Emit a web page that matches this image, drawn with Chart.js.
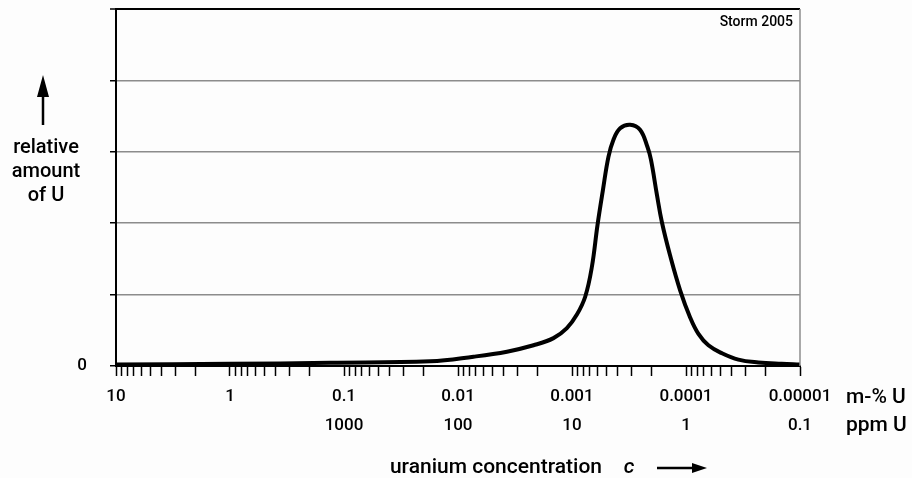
<!DOCTYPE html>
<html>
<head>
<meta charset="utf-8">
<title>Uranium concentration</title>
<script src="https://cdn.jsdelivr.net/npm/chart.js@4.4.1/dist/chart.umd.min.js"></script>
<style>
  html, body { margin: 0; padding: 0; background: #fdfdfd; }
  canvas { display: block; }
</style>
</head>
<body>
<canvas id="uChart" width="912" height="478"></canvas>
<script>
// uranium concentration in m-% U
const concentration = [10, 1, 0.132, 0.0175, 0.00731, 0.00372, 0.002176, 0.001453, 0.001109,
  0.000906, 0.000766, 0.000669, 0.000598, 0.000536, 0.000479, 0.000433, 0.000378, 0.000309,
  0.000253, 0.000218, 0.000203, 0.000180, 0.000163, 0.000138, 0.0001126, 0.000092,
  0.0000778, 0.0000636, 0.0000486, 0.0000347, 0.0000232, 0.0000145, 0.00001];
// relative amount of U (grid step = 1)
const relativeAmount = [0.02, 0.03, 0.045, 0.065, 0.13, 0.20, 0.29, 0.39, 0.53,
  0.72, 0.97, 1.39, 1.97, 2.46, 2.93, 3.17, 3.33, 3.38,
  3.31, 3.07, 2.89, 2.40, 2.02, 1.55, 1.06, 0.68,
  0.45, 0.29, 0.18, 0.09, 0.05, 0.03, 0.02];

const massTicks = ['10', '1', '0.1', '0.01', '0.001', '0.0001', '0.00001'];
const ppmTicks = ['', '', '1000', '100', '10', '1', '0.1'];
const yTicks = ['0'];
const yTitle = ['relative', 'amount', 'of U'];
const xTitle = 'uranium concentration';
const unitLabels = ['m-% U', 'ppm U'];
const sourceNote = 'Storm 2005';

const FONT = 'Roboto, "Open Sans", sans-serif';

// decade ticks plus 9..2 minor ticks, left (10) to right (0.00001)
const tickList = [];
massTicks.forEach((lab, i) => {
    const d = Number(lab);
    tickList.push({ value: d, di: i });
    if (i < massTicks.length - 1) {
        for (let k = 9; k >= 2; k--) tickList.push({ value: d / 10 * k });
    }
});

const annotate = {
    id: 'annotate',
    afterDraw(chart) {
        const { ctx, chartArea: a } = chart;
        ctx.save();

        // grey right frame line
        ctx.strokeStyle = '#8c8c8c';
        ctx.lineWidth = 1.5;
        ctx.beginPath();
        ctx.moveTo(a.right, a.top);
        ctx.lineTo(a.right, a.bottom);
        ctx.stroke();

        ctx.fillStyle = '#000';
        ctx.strokeStyle = '#000';
        ctx.textBaseline = 'alphabetic';

        ctx.font = '500 14px ' + FONT;
        ctx.textAlign = 'right';
        ctx.fillText(sourceNote, a.right - 7, 26);

        // y title with upward arrow
        ctx.font = '500 20px ' + FONT;
        ctx.textAlign = 'center';
        yTitle.forEach((t, i) => ctx.fillText(t, 46, 153 + i * 24));
        ctx.lineWidth = 2.5;
        ctx.beginPath();
        ctx.moveTo(43, 125);
        ctx.lineTo(43, 94);
        ctx.stroke();
        ctx.beginPath();
        ctx.moveTo(43, 75);
        ctx.lineTo(37, 97);
        ctx.lineTo(49, 97);
        ctx.closePath();
        ctx.fill();

        // unit labels next to the tick rows
        ctx.font = '500 21px ' + FONT;
        ctx.textAlign = 'left';
        ctx.fillText(unitLabels[0], 846, 403);
        ctx.fillText(unitLabels[1], 846, 431);

        // x title with arrow
        ctx.font = '500 21px ' + FONT;
        ctx.textAlign = 'right';
        ctx.fillText(xTitle, 602, 473);
        ctx.font = 'italic 500 21px ' + FONT;
        ctx.textAlign = 'center';
        ctx.fillText('c', 629, 473);
        ctx.lineWidth = 2.5;
        ctx.beginPath();
        ctx.moveTo(657, 468);
        ctx.lineTo(694, 468);
        ctx.stroke();
        ctx.beginPath();
        ctx.moveTo(707, 468);
        ctx.lineTo(692, 463);
        ctx.lineTo(692, 473);
        ctx.closePath();
        ctx.fill();

        ctx.restore();
    }
};

const ctx = document.getElementById('uChart').getContext('2d');
const uChart = new Chart(ctx, {
    type: 'line',
    data: {
        datasets: [{
            data: concentration.map((c, i) => ({ x: c, y: relativeAmount[i] })),
            borderColor: '#000',
            borderWidth: 4,
            pointRadius: 0,
            tension: 0.4,
            fill: false
        }]
    },
    options: {
        responsive: false,
        animation: false,
        layout: { autoPadding: false, padding: { top: 9, right: 112, bottom: 0, left: 0 } },
        plugins: {
            legend: { display: false },
            tooltip: { enabled: false }
        },
        scales: {
            x: {
                type: 'logarithmic',
                reverse: true,
                min: 0.00001,
                max: 10,
                border: { color: '#000', width: 2 },
                grid: {
                    drawOnChartArea: false,
                    drawTicks: true,
                    tickLength: 10,
                    tickColor: '#000',
                    tickWidth: 1.5
                },
                afterBuildTicks: scale => {
                    scale.ticks = tickList.map(t => ({ value: t.value, di: t.di }));
                },
                ticks: {
                    autoSkip: false,
                    maxRotation: 0,
                    minRotation: 0,
                    padding: 6,
                    color: '#000',
                    font: { family: FONT, size: 17, weight: '500', lineHeight: 29 / 17 },
                    callback: (value, index, ticks) => {
                        const di = ticks[index].di;
                        return di === undefined ? '' : [massTicks[di], ppmTicks[di]];
                    }
                },
                afterFit: scale => { scale.height = 112; }
            },
            y: {
                min: 0,
                max: 5,
                border: { color: '#000', width: 2 },
                grid: {
                    color: c => c.tick.value === 5 ? '#000' : '#8c8c8c',
                    lineWidth: c => c.tick.value === 5 ? 2 : 1.5,
                    tickLength: 6,
                    tickColor: '#000',
                    tickWidth: 1.5
                },
                ticks: {
                    stepSize: 1,
                    padding: 23,
                    color: '#000',
                    font: { family: FONT, size: 17, weight: '500' },
                    callback: v => v === 0 ? yTicks[0] : ''
                },
                afterFit: scale => {
                    scale.width = 116;
                    scale.paddingTop = 0;
                    scale.paddingBottom = 0;
                }
            }
        }
    },
    plugins: [annotate]
});
</script>
</body>
</html>
